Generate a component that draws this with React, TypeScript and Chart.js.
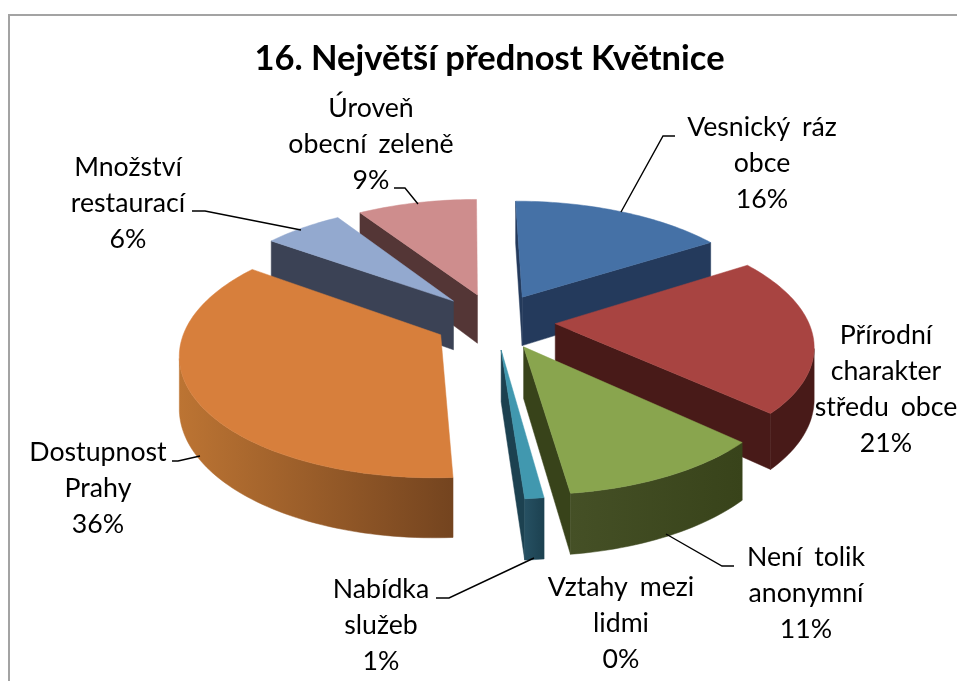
import React, { useEffect, useRef } from "react";
import { Chart, registerables } from "chart.js";

Chart.register(...registerables);

const categories = ["Vesnický ráz obce", "Přírodní charakter středu obce", "Není tolik anonymní", "Vztahy mezi lidmi", "Nabídka služeb", "Dostupnost Prahy", "Množství restaurací", "Úroveň obecní zeleně"];
const values = [16, 21, 11, 0, 1, 36, 6, 9];
const topColors = ["#4571a6", "#a84441", "#89a54e", "#71588f", "#4198af", "#d77f3c", "#93a9cf", "#ce8d8d"];
const wallLight = ["#243a5c", "#481a18", "#455026", "#392c48", "#265062", "#bc7433", "#3b4255", "#543636"];
const wallDark = ["#243a5c", "#481a18", "#38431a", "#392c48", "#1c4150", "#74441f", "#3b4255", "#543636"];
const labelLines = [
  ["Vesnický ráz", "obce", "16%"],
  ["Přírodní", "charakter", "středu obce", "21%"],
  ["Není tolik", "anonymní", "11%"],
  ["Vztahy mezi", "lidmi", "0%"],
  ["Nabídka", "služeb", "1%"],
  ["Dostupnost", "Prahy", "36%"],
  ["Množství", "restaurací", "6%"],
  ["Úroveň", "obecní zeleně", "9%"],
];
const labelCentres = [[762, 136], [886, 344], [806, 566], [621, 596], [381, 598], [98, 461], [128, 176], [371, 117]];
const leaders = [
  [[621, 212], [663, 136], [675, 136]],
  [],
  [[666, 534], [722, 566], [734, 566]],
  [],
  [[534, 558], [449, 598], [436, 598]],
  [[200, 456], [178, 461], [172, 461]],
  [[301, 230], [205, 211], [192, 211]],
  [[418, 204], [405, 188], [394, 188]],
];

const view = { cx: 494.5, cy: 321, R: 253, Ry: 117, k: 0.15, shear: 3, depth: 50, explode: 0.24 };
const FONT = "Lato, Carlito, sans-serif";

function project(wx: number, wy: number, z: number) {
  const s = 1 / (1 + view.k * wy);
  return { x: view.cx + view.R * wx * s - view.shear * wy, y: view.cy - view.Ry * wy * s + z * s };
}

function signedArea(p: { x: number; y: number }[]) {
  let a = 0;
  for (let i = 0; i < p.length; i++) {
    const q = p[(i + 1) % p.length];
    a += p[i].x * q.y - q.x * p[i].y;
  }
  return a;
}

function fillPoly(ctx: CanvasRenderingContext2D, pts: { x: number; y: number }[], fill: any) {
  ctx.beginPath();
  pts.forEach((p, i) => (i ? ctx.lineTo(p.x, p.y) : ctx.moveTo(p.x, p.y)));
  ctx.closePath();
  ctx.fillStyle = fill;
  ctx.fill();
  ctx.strokeStyle = fill;
  ctx.lineWidth = 0.5;
  ctx.stroke();
}

const pie3d = {
  id: "pie3d",
  beforeDatasetsDraw(chart: any) {
    const ctx: CanvasRenderingContext2D = chart.ctx;
    const arcs = chart.getDatasetMeta(0).data;
    const order = arcs
      .map((arc: any, i: number) => ({ arc, i, mid: (arc.startAngle + arc.endAngle) / 2 }))
      .filter((o: any) => values[o.i] > 0)
      .sort((a: any, b: any) => Math.sin(a.mid) - Math.sin(b.mid));
    for (const { arc, i, mid } of order) {
      const ax = view.explode * Math.cos(mid);
      const ay = -view.explode * Math.sin(mid);
      const rim: [number, number][] = [];
      const steps = Math.max(4, Math.ceil((arc.endAngle - arc.startAngle) * 40));
      for (let j = 0; j <= steps; j++) {
        const t = arc.startAngle + ((arc.endAngle - arc.startAngle) * j) / steps;
        rim.push([ax + Math.cos(t), ay - Math.sin(t)]);
      }
      const first = rim[0];
      const last = rim[rim.length - 1];
      const walls = [
        [[ax, ay], first],
        [last, [ax, ay]],
      ];
      for (const w of walls) {
        const poly = [project(w[0][0], w[0][1], 0), project(w[1][0], w[1][1], 0), project(w[1][0], w[1][1], view.depth), project(w[0][0], w[0][1], view.depth)];
        if (signedArea(poly) < 0) fillPoly(ctx, poly, wallDark[i]);
      }
      // outer wall: front-facing segments only
      const front = rim.filter((_, j) => j === rim.length - 1 ? project(rim[j][0], rim[j][1], 0).x < project(rim[j - 1][0], rim[j - 1][1], 0).x : project(rim[j + 1][0], rim[j + 1][1], 0).x < project(rim[j][0], rim[j][1], 0).x);
      if (front.length > 1) {
        const upper = front.map((p) => project(p[0], p[1], 0));
        const lower = front.map((p) => project(p[0], p[1], view.depth)).reverse();
        const xs = upper.map((p) => p.x);
        const g = ctx.createLinearGradient(Math.min(...xs), 0, Math.max(...xs), 0);
        g.addColorStop(0, wallLight[i]);
        g.addColorStop(1, wallDark[i]);
        fillPoly(ctx, upper.concat(lower), g);
      }
      const top = [project(ax, ay, 0), ...rim.map((p) => project(p[0], p[1], 0))];
      fillPoly(ctx, top, topColors[i]);
    }
    return false;
  },
  afterDraw(chart: any) {
    const ctx: CanvasRenderingContext2D = chart.ctx;
    ctx.save();
    ctx.strokeStyle = "#a3a3a3";
    ctx.lineWidth = 2;
    ctx.beginPath();
    ctx.moveTo(9, 681);
    ctx.lineTo(9, 15);
    ctx.lineTo(957, 15);
    ctx.stroke();

    ctx.strokeStyle = "#000";
    ctx.lineWidth = 1.4;
    for (const l of leaders) {
      if (!l.length) continue;
      ctx.beginPath();
      l.forEach((p, i) => (i ? ctx.lineTo(p[0], p[1]) : ctx.moveTo(p[0], p[1])));
      ctx.stroke();
    }
    ctx.fillStyle = "#000";
    ctx.font = `26.7px ${FONT}`;
    ctx.textAlign = "center";
    ctx.textBaseline = "alphabetic";
    (ctx as any).wordSpacing = "5px";
    labelLines.forEach((lines, i) => {
      lines.forEach((t, j) => ctx.fillText(t, labelCentres[i][0], labelCentres[i][1] + j * 36));
    });
    ctx.restore();
  },
};

export default function App() {
  const ref = useRef<HTMLCanvasElement>(null);
  useEffect(() => {
    document.body.style.margin = "0";
    const chart = new Chart(ref.current!, {
      type: "pie",
      data: {
        labels: categories,
        datasets: [{ data: values, backgroundColor: topColors, borderWidth: 0 }],
      },
      options: {
        animation: false,
        responsive: false,
        layout: { padding: { left: 22 } },
        plugins: {
          legend: { display: false },
          tooltip: { enabled: false },
          title: {
            display: true,
            text: "16. Největší přednost Květnice",
            color: "#000",
            font: { family: FONT, size: 34.5, weight: "bold" },
            padding: { top: 38, bottom: 0 },
          },
        },
      },
      plugins: [pie3d as any],
    });
    return () => chart.destroy();
  }, []);
  return <canvas ref={ref} width={957} height={681} style={{ display: "block" }} />;
}
